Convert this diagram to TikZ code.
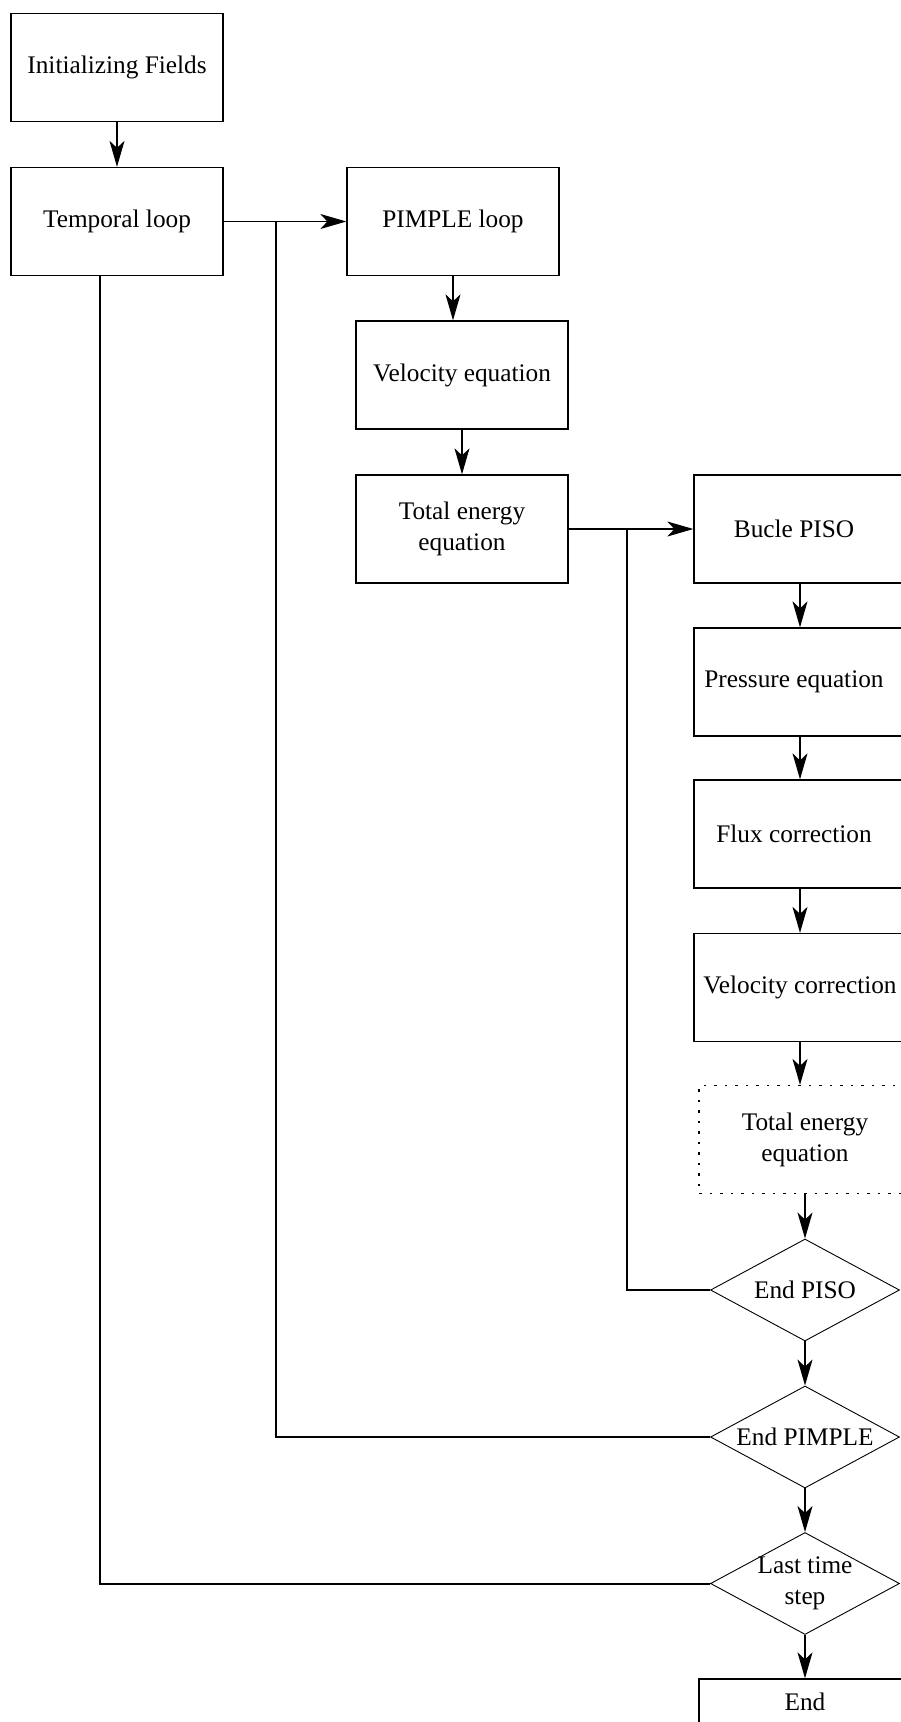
\documentclass[tikz,border=0pt]{standalone}
\usepackage{fontspec}
\setmainfont{Liberation Serif}
\usetikzlibrary{shapes.geometric,arrows.meta}
\begin{document}
\begin{tikzpicture}[x=1pt,y=-1pt,
  txt/.style={align=center,font=\fontsize{25.3}{31}\selectfont},
  box/.style={txt,draw,line width=1.3pt,minimum width=212pt,minimum height=108pt,inner sep=0pt},
  dbox/.style={box,dash pattern=on 2.5pt off 8pt},
  dia/.style={draw,line width=0.9pt,shape=diamond,minimum width=189pt,minimum height=102pt,inner sep=0pt},
  lbl/.style={txt,inner sep=0pt},
  conn/.style={line width=1.4pt},
  back/.style={line width=2pt},
  arr/.style={conn,-{Stealth[length=26pt,width=15pt,inset=7pt]}}
]
\useasboundingbox (0,0) rectangle (901,1722);
\clip (0,0) rectangle (901,1722);

% left column
\node[box] (init) at (117,67.5) {Initializing Fields};
\node[box] (temporal) at (117,221.5) {Temporal loop};

% middle column
\node[box] (pimple) at (453,221.5) {PIMPLE loop};
\node[box] (vel) at (462,375) {Velocity equation};
\node[box] (total) at (462,529) {Total energy\\equation};

% right column
\node[box] (bucle) at (800,529) {Bucle PISO\hspace{12pt}};
\node[box] (press) at (800,682) {Pressure equation\hspace{12pt}};
\node[box] (flux) at (800,834) {Flux correction\hspace{12pt}};
\node[box] (velc) at (800,987.5) {Velocity correction};
\node[dbox] (dtotal) at (805,1139.5) {Total energy\\equation};

\node[dia] (piso) at (805,1290) {};
\node[lbl] (pisot) at (piso.center) {End PISO};
\node[dia] (pend) at (805,1437) {};
\node[lbl] (pendt) at (pend.center) {End PIMPLE};
\node[dia] (last) at (805,1583.5) {};
\node[lbl] (lastt) at (last.center) {Last time\\step};

\node[box,minimum height=46pt] (end) at (805,1702) {End};

% junction coordinates
\coordinate (j0) at ([xshift=-17pt]temporal.south);
\coordinate (j1) at (275.5,221.5);
\coordinate (j2) at (627,529);

% forward arrows
\draw[arr] (init.south) -- (temporal.north);
\draw[arr] (temporal.east) -- (pimple.west);
\draw[arr] (pimple.south) -- (pimple.south |- vel.north);
\draw[arr] (vel.south) -- (total.north);
\draw[arr] (total.east) -- (bucle.west);
\draw[arr] (bucle.south) -- (press.north);
\draw[arr] (press.south) -- (flux.north);
\draw[arr] (flux.south) -- (velc.north);
\draw[arr] (velc.south) -- (velc.south |- dtotal.north);
\draw[arr] (dtotal.south) -- (piso.north);
\draw[arr] (piso.south) -- (pend.north);
\draw[arr] (pend.south) -- (last.north);
\draw[arr] (last.south) -- (end.north);

% return loops
\draw[back] (piso.west) -| (j2);
\draw[back] (pend.west) -| (j1);
\draw[back] (last.west) -| (j0);
\end{tikzpicture}
\end{document}
